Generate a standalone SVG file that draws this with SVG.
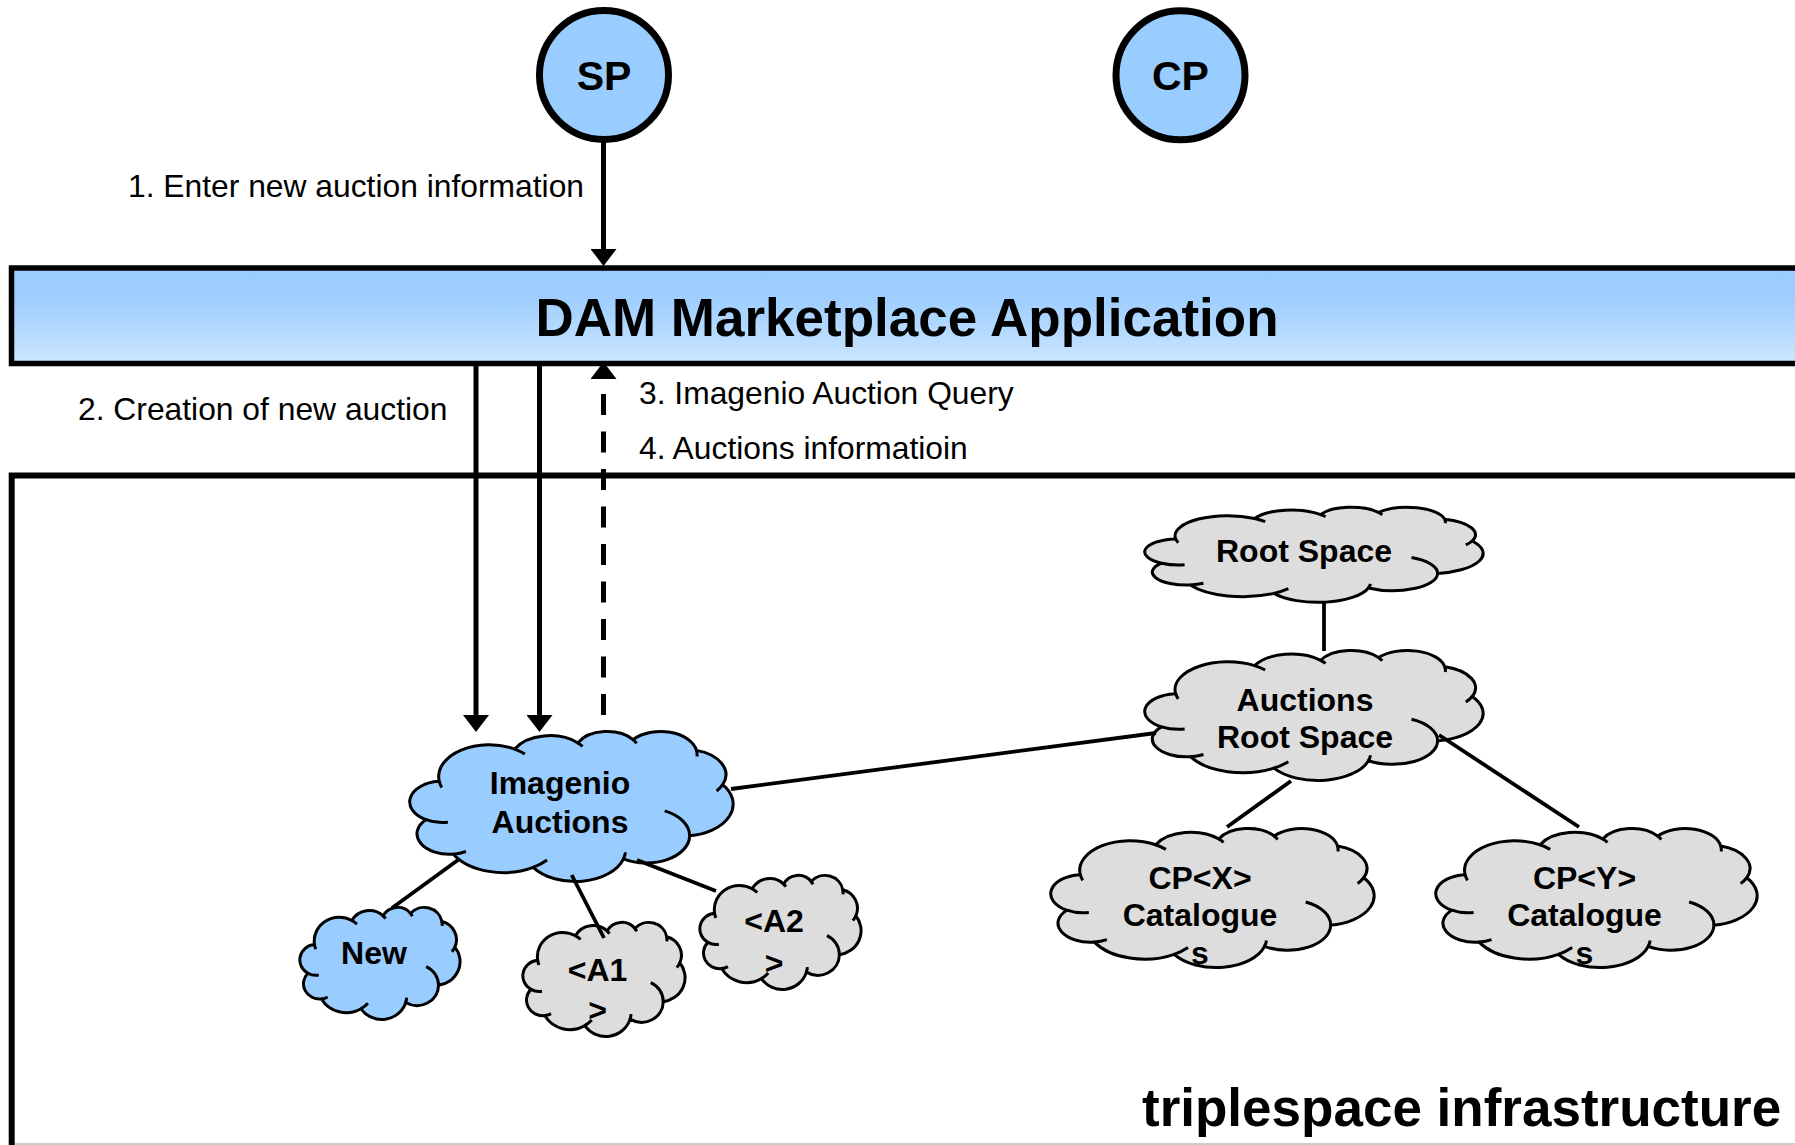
<svg xmlns="http://www.w3.org/2000/svg" xmlns:xlink="http://www.w3.org/1999/xlink" width="1795" height="1145" viewBox="0 0 1795 1145">
  <style>
    .lbl { font-family: "Liberation Sans", Arial, sans-serif; font-size: 31.8px; fill: #000; }
    .ctext { font-family: "Liberation Sans", Arial, sans-serif; font-size: 32px; font-weight: bold; fill: #000; text-anchor: middle; }
    .big { font-family: "Liberation Sans", Arial, sans-serif; font-size: 53px; font-weight: bold; fill: #000; }
    .actor { fill: #99ccff; stroke: #000; stroke-width: 7; }
    .actor-text { font-family: "Liberation Sans", Arial, sans-serif; font-size: 41px; font-weight: bold; fill: #000; text-anchor: middle; }
    .blue { fill: #99ccff; stroke: #000; }
    .grey { fill: #dddddd; stroke: #000; }
    .cloud-line { fill: none; stroke: #000; stroke-width: 3; vector-effect: non-scaling-stroke; }
    .cloud-body { stroke-width: 3; vector-effect: non-scaling-stroke; }
    .arrow { fill: none; stroke: #000; stroke-width: 5; }
    .dashed { stroke-dasharray: 21 16.5; }
    .link { fill: none; stroke: #000; stroke-width: 3.8; }
  </style>
  <defs>
    <linearGradient id="barFill" x1="0" y1="0" x2="0" y2="1">
      <stop offset="0" stop-color="#99ccff"/>
      <stop offset="0.35" stop-color="#a0cfff"/>
      <stop offset="1" stop-color="#cce6ff"/>
    </linearGradient>
    <marker id="head" viewBox="0 0 17 26" refX="0" refY="13" markerWidth="17" markerHeight="26" markerUnits="userSpaceOnUse" orient="auto">
      <polygon points="0,0 17,13 0,26" fill="#000"/>
    </marker>
    <!-- cloud outline in a 43200 x 43200 unit box -->
    <g id="cloud">
      <path class="cloud-body" d="M3900 14370 A6753 9190 0 0 1 14005.5 5202.5 A5333 7267 0 0 1 22456.5 3432.7 A4365 5945 0 0 1 29834.4 2481.8 A4857 6595 0 0 1 38318.8 5578.3 A5333 7273 0 0 1 41819.2 15462 A6775 9220 0 0 1 37403.2 30202.4 A5785 7867 0 0 1 28554.2 36812.2 A6752 9215 0 0 1 16477.8 39261.3 A7720 10543 0 0 1 5801.7 35465.3 A4360 5918 0 0 1 2111.1 25542.4 A4345 5945 0 0 1 3861.7 14499.4 Z"/>
      <path class="cloud-line" d="M4245.7 16274.7 A6753 9190 0 0 1 3900 14370 M14005.5 5202.5 A6753 9190 0 0 1 15366.5 6633.2 M22456.5 3432.7 A5333 7267 0 0 1 23083.8 4443.3 M29834.4 2481.8 A4365 5945 0 0 1 30318.6 3573.9 M38318.8 5578.3 A4857 6595 0 0 1 38377.2 7322.2 M41819.2 15462 A5333 7273 0 0 1 41003.3 17271 M34063.2 23009.4 A5785 7867 0 0 1 37403.2 30202.4 M28818.2 34944.8 A6752 9215 0 0 1 28554.2 36812.2 M18327.2 37142.6 A7720 10543 0 0 1 16477.8 39261.3 M7473.5 34712.9 A4360 5918 0 0 1 5801.7 35465.3 M5062.1 26267.7 A4345 5945 0 0 1 2111.1 25542.4"/>
    </g>
  </defs>

  <rect width="1795" height="1145" fill="#fff"/>

  <!-- infrastructure frame -->
  <g id="infrastructure">
    <rect x="11.7" y="475.5" width="1900" height="800" fill="none" stroke="#000" stroke-width="6"/>
    <line x1="15" y1="1144" x2="1795" y2="1144" stroke="#bbbbbb" stroke-width="1.5"/>
    <text class="big" x="1142" y="1126">triplespace infrastructure</text>
  </g>

  <!-- application bar -->
  <g id="dam-app">
    <rect x="11.5" y="268" width="1900" height="95.5" fill="url(#barFill)" stroke="#000" stroke-width="5.5"/>
    <text class="big" x="907" y="336" text-anchor="middle">DAM Marketplace Application</text>
  </g>

  <!-- actors -->
  <g id="sp">
    <circle class="actor" cx="604" cy="75" r="64.5"/>
    <text class="actor-text" x="604" y="90">SP</text>
  </g>
  <g id="cp">
    <circle class="actor" cx="1180.5" cy="75.3" r="64.5"/>
    <text class="actor-text" x="1180.5" y="90">CP</text>
  </g>

  <!-- tuple spaces -->
  <g id="imagenio-auctions">
    <use xlink:href="#cloud" href="#cloud" class="blue" transform="translate(410 731) scale(0.0074769 0.0034722)"/>
    <text class="ctext" x="560" y="794">Imagenio</text>
    <text class="ctext" x="560" y="832.5">Auctions</text>
  </g>
  <g id="root-space">
    <use xlink:href="#cloud" href="#cloud" class="grey" transform="translate(1145 507) scale(0.0078241 0.0021991)"/>
    <text class="ctext" x="1304" y="562">Root Space</text>
  </g>
  <g id="auctions-root-space">
    <use xlink:href="#cloud" href="#cloud" class="grey" transform="translate(1145 650) scale(0.0078241 0.0030093)"/>
    <text class="ctext" x="1305" y="710.5">Auctions</text>
    <text class="ctext" x="1305" y="747.5">Root Space</text>
  </g>
  <g id="cpx-catalogues">
    <use xlink:href="#cloud" href="#cloud" class="grey" transform="translate(1051 828) scale(0.0074769 0.0032176)"/>
    <text class="ctext" x="1200" y="889">CP&lt;X&gt;</text>
    <text class="ctext" x="1200" y="926">Catalogue</text>
    <text class="ctext" x="1200" y="964">s</text>
  </g>
  <g id="cpy-catalogues">
    <use xlink:href="#cloud" href="#cloud" class="grey" transform="translate(1436 828) scale(0.0074306 0.0032176)"/>
    <text class="ctext" x="1584.5" y="889">CP&lt;Y&gt;</text>
    <text class="ctext" x="1584.5" y="926">Catalogue</text>
    <text class="ctext" x="1584.5" y="964">s</text>
  </g>
  <g id="new">
    <use xlink:href="#cloud" href="#cloud" class="blue" transform="translate(300 907) scale(0.0037037 0.0025926)"/>
    <text class="ctext" x="374" y="964">New</text>
  </g>
  <g id="a1">
    <use xlink:href="#cloud" href="#cloud" class="grey" transform="translate(523 922) scale(0.00375 0.0026389)"/>
    <text class="ctext" x="597.6" y="981">&lt;A1</text>
    <text class="ctext" x="597.6" y="1021">&gt;</text>
  </g>
  <g id="a2">
    <use xlink:href="#cloud" href="#cloud" class="grey" transform="translate(700 875) scale(0.0037269 0.0026389)"/>
    <text class="ctext" x="774" y="932">&lt;A2</text>
    <text class="ctext" x="774" y="974">&gt;</text>
  </g>

  <!-- connectors -->
  <g id="connectors">
    <path class="arrow" d="M603.5 140 V249" marker-end="url(#head)"/>
    <path class="arrow" d="M476 366 V715" marker-end="url(#head)"/>
    <path class="arrow" d="M539.5 366 V715" marker-end="url(#head)"/>
    <path class="arrow dashed" d="M603.5 715 V379" marker-end="url(#head)"/>
    <path class="link" d="M1324 602 V651"/>
    <path class="link" d="M731 789 L1156 733"/>
    <path class="link" d="M1291 781 L1227 827"/>
    <path class="link" d="M1439 735 L1579 827"/>
    <path class="link" d="M458 860 L392 908"/>
    <path class="link" d="M571.7 875 L604 938"/>
    <path class="link" d="M637 860 L716 891"/>
  </g>

  <!-- step labels -->
  <g id="labels">
    <text class="lbl" x="128" y="196.5">1. Enter new auction information</text>
    <text class="lbl" x="78" y="419.5">2. Creation of new auction</text>
    <text class="lbl" x="639" y="403.5">3. Imagenio Auction Query</text>
    <text class="lbl" x="639" y="458.5">4. Auctions informatioin</text>
  </g>
</svg>
